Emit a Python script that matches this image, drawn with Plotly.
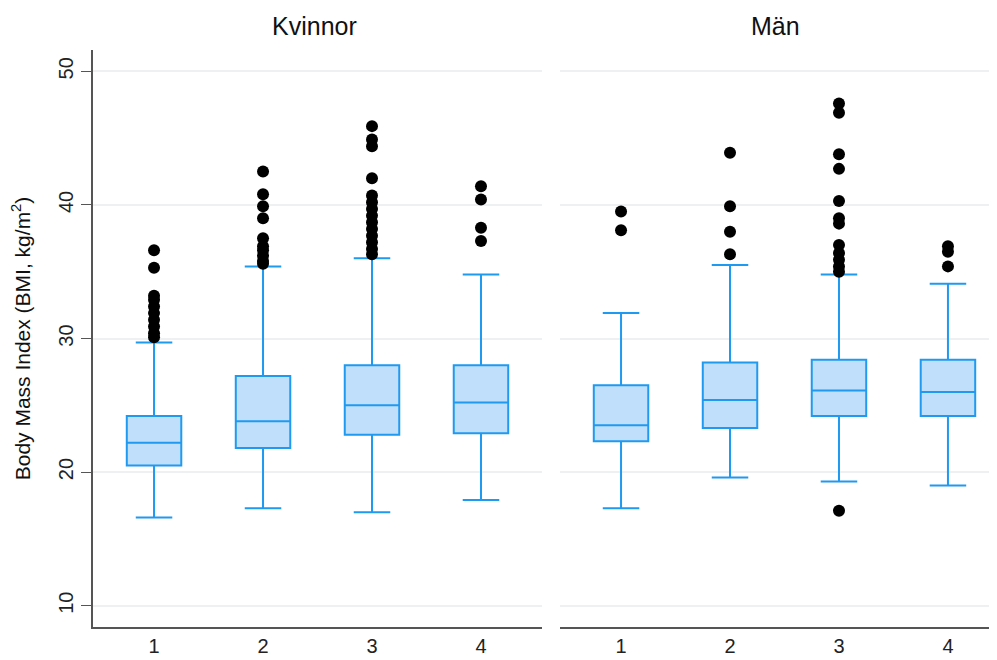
import plotly.graph_objects as go
from plotly.subplots import make_subplots

groups = [1, 2, 3, 4]
panels = ["Kvinnor", "Män"]

# Kvinnor
k_q1 = [20.5, 21.8, 22.8, 22.9]
k_med = [22.2, 23.8, 25.0, 25.2]
k_q3 = [24.2, 27.2, 28.0, 28.0]
k_lo = [16.6, 17.3, 17.0, 17.9]
k_hi = [29.7, 35.4, 36.0, 34.8]
k_out = {
    1: [36.6, 35.3, 33.2, 32.9, 32.4, 31.9, 31.4, 30.9, 30.4, 30.1],
    2: [42.5, 40.8, 39.9, 39.0, 37.5, 36.9, 36.6, 36.2, 35.8, 35.6],
    3: [45.9, 44.9, 44.4, 42.0, 40.7, 40.2, 39.7, 39.2, 38.7, 38.2, 37.7,
        37.2, 36.7, 36.3],
    4: [41.4, 40.4, 38.3, 37.3],
}

# Män
m_q1 = [22.3, 23.3, 24.2, 24.2]
m_med = [23.5, 25.4, 26.1, 26.0]
m_q3 = [26.5, 28.2, 28.4, 28.4]
m_lo = [17.3, 19.6, 19.3, 19.0]
m_hi = [31.9, 35.5, 34.8, 34.1]
m_out = {
    1: [39.5, 38.1],
    2: [43.9, 39.9, 38.0, 36.3],
    3: [47.6, 46.9, 43.8, 42.7, 40.3, 39.0, 38.6, 37.0, 36.4, 35.9, 35.4, 35.0, 17.1],
    4: [36.9, 36.5, 35.4],
}

LINE = "#1f9af0"
FILL = "#bfdffb"
FONT = "Liberation Sans, Arial, sans-serif"

fig = make_subplots(rows=1, cols=2, shared_yaxes=True, horizontal_spacing=0.02,
                    subplot_titles=panels)

data = [
    (k_q1, k_med, k_q3, k_lo, k_hi, k_out),
    (m_q1, m_med, m_q3, m_lo, m_hi, m_out),
]
for i, (q1, med, q3, lo, hi, out) in enumerate(data, start=1):
    fig.add_trace(go.Box(
        x=groups, q1=q1, median=med, q3=q3, lowerfence=lo, upperfence=hi,
        width=0.5, whiskerwidth=0.67, fillcolor=FILL,
        line=dict(color=LINE, width=2), boxpoints=False, showlegend=False,
        hoverinfo="skip"), row=1, col=i)
    xs, ys = [], []
    for g in groups:
        for v in out[g]:
            xs.append(g)
            ys.append(v)
    fig.add_trace(go.Scatter(
        x=xs, y=ys, mode="markers",
        marker=dict(color="black", size=12), showlegend=False,
        hoverinfo="skip"), row=1, col=i)

fig.update_layout(
    width=997, height=660, plot_bgcolor="white", paper_bgcolor="white",
    margin=dict(l=85, r=8, t=42, b=41),
    font=dict(family=FONT, size=20, color="#222"),
)
fig.update_xaxes(domain=[0, 0.4967], row=1, col=1, range=[0.44, 4.56])
fig.update_xaxes(domain=[0.5166, 1], row=1, col=2, range=[0.44, 4.45])
fig.update_xaxes(tickvals=groups, ticktext=[str(g) for g in groups],
                 showline=True, linecolor="#555", linewidth=1.5,
                 showgrid=False, ticks="", zeroline=False, automargin=False,
                 tickfont=dict(size=20, color="#222"))
fig.update_yaxes(range=[8.4, 51.6], tickvals=[10, 20, 30, 40, 50],
                 showgrid=True, gridcolor="#eef1f1", gridwidth=1.5,
                 zeroline=False, automargin=False)
fig.update_yaxes(row=1, col=1, showline=True, linecolor="#555", linewidth=1.5,
                 ticks="outside", ticklen=10, tickcolor="#555", tickangle=-90,
                 tickfont=dict(size=20, color="#222"),
                 title=dict(text="Body Mass Index (BMI, kg/m<sup>2</sup>)",
                            font=dict(size=21, color="#111"), standoff=20))
fig.update_yaxes(row=1, col=2, showline=False, ticks="", showticklabels=False)

for ann in fig.layout.annotations:
    ann.font = dict(size=25, color="#111", family=FONT)
    ann.yshift = 8

fig.write_html("out.html")
